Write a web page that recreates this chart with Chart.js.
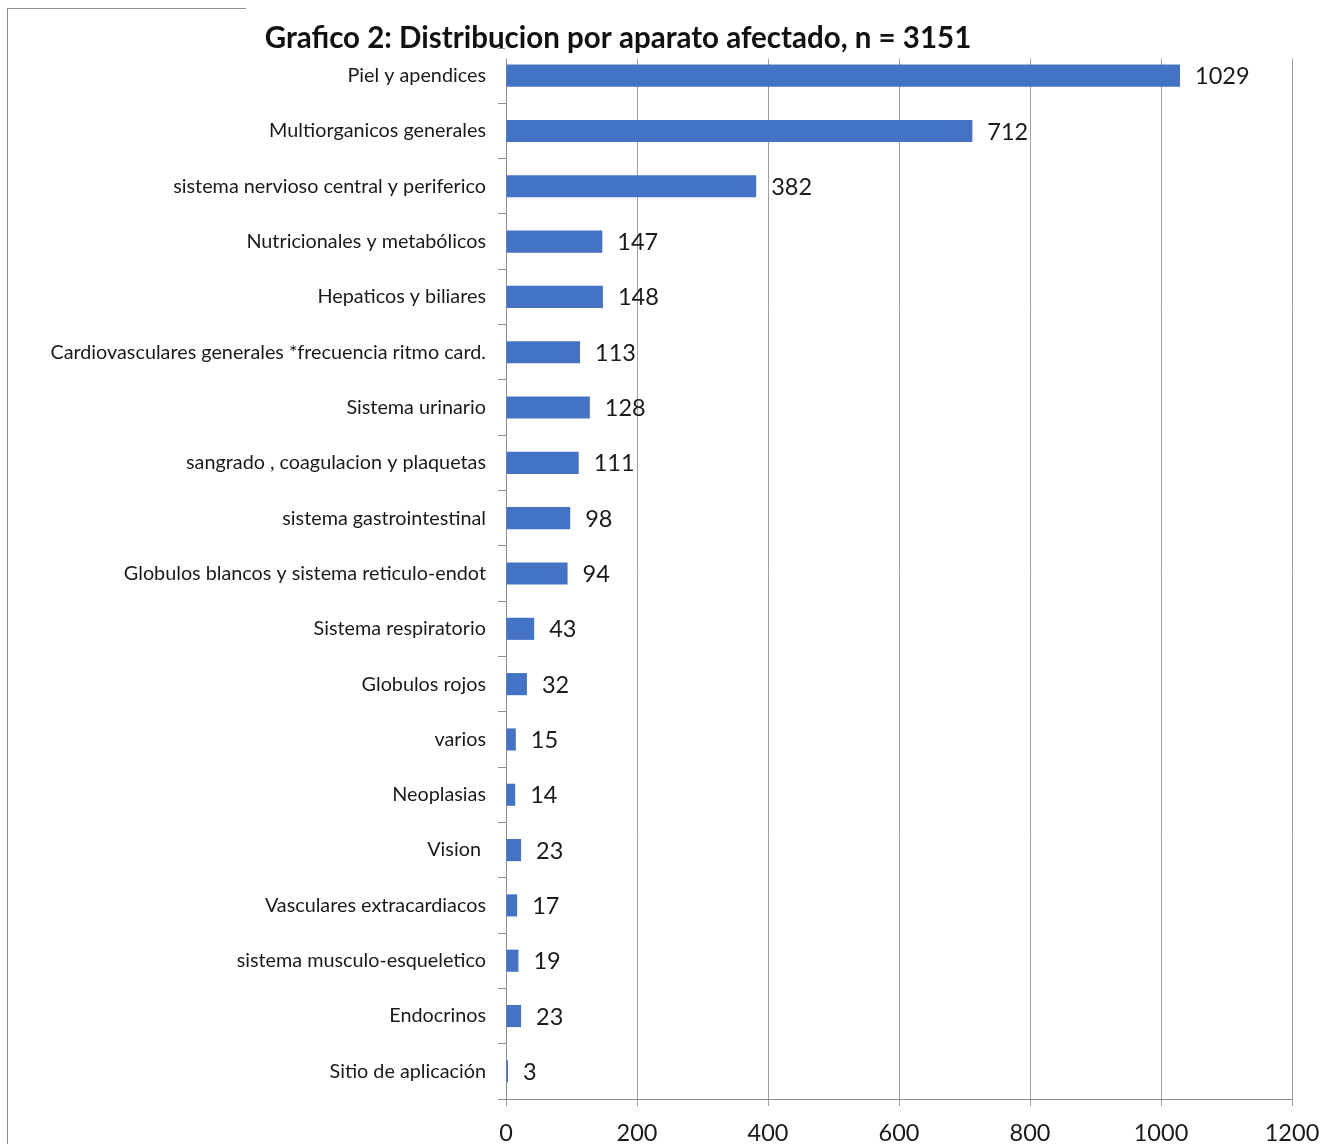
<!DOCTYPE html>
<html>
<head>
<meta charset="utf-8">
<script src="https://cdn.jsdelivr.net/npm/chart.js@4/dist/chart.umd.min.js"></script>
<style>
  html, body { margin: 0; padding: 0; background: #fff; }
  #wrap { position: relative; width: 1333px; height: 1144px; }
  #frame { position: absolute; left: 7px; top: 8px; width: 238px; height: 1136px;
           border-left: 1px solid #8c8c8c; border-top: 1px solid #8c8c8c; }
  canvas { position: absolute; left: 0; top: 0; }
</style>
</head>
<body>
<div id="wrap">
  <div id="frame"></div>
  <canvas id="aparatoChart" width="1333" height="1144"></canvas>
</div>
<script>
const chartTitle = 'Grafico 2: Distribucion por aparato afectado, n = 3151';

const categories = [
    'Piel y apendices',
    'Multiorganicos generales',
    'sistema nervioso central y periferico',
    'Nutricionales y metabólicos',
    'Hepaticos y biliares',
    'Cardiovasculares generales *frecuencia ritmo card.',
    'Sistema urinario',
    'sangrado , coagulacion y plaquetas',
    'sistema gastrointestinal',
    'Globulos blancos y sistema reticulo-endot',
    'Sistema respiratorio',
    'Globulos rojos',
    'varios',
    'Neoplasias',
    'Vision ',
    'Vasculares extracardiacos',
    'sistema musculo-esqueletico',
    'Endocrinos',
    'Sitio de aplicación'
];

const casos = [1029, 712, 382, 147, 148, 113, 128, 111, 98, 94, 43, 32, 15, 14, 23, 17, 19, 23, 3];

const xTicks = [0, 200, 400, 600, 800, 1000, 1200];

const FONT = 'Lato, "Open Sans", sans-serif';

// value written just past the end of each bar
const valueLabels = {
    id: 'valueLabels',
    afterDatasetsDraw(chart) {
        const ctx = chart.ctx;
        const meta = chart.getDatasetMeta(0);
        ctx.save();
        ctx.font = '23.5px ' + FONT;
        ctx.fillStyle = '#1a1a1a';
        ctx.textAlign = 'left';
        ctx.textBaseline = 'middle';
        meta.data.forEach((bar, i) => {
            ctx.fillText(String(chart.data.datasets[0].data[i]), bar.x + 15, bar.y + 1);
        });
        ctx.restore();
    }
};

// grid lines and axis line start a little below the top of the first band
const topGap = {
    id: 'topGap',
    beforeDatasetsDraw(chart) {
        const a = chart.chartArea;
        const ctx = chart.ctx;
        ctx.save();
        ctx.fillStyle = '#fff';
        ctx.fillRect(a.left - 1, a.top - 1, a.right - a.left + 3, 11.5);
        ctx.restore();
    }
};

// heading sits a little left of the canvas centre
const heading = {
    id: 'heading',
    afterDraw(chart) {
        const ctx = chart.ctx;
        ctx.save();
        ctx.font = 'bold 29.5px ' + FONT;
        ctx.fillStyle = '#111';
        ctx.textAlign = 'center';
        ctx.textBaseline = 'middle';
        ctx.fillText(chartTitle, 618, 38);
        ctx.restore();
    }
};

const ctx = document.getElementById('aparatoChart').getContext('2d');
const chart = new Chart(ctx, {
    type: 'bar',
    data: {
        labels: categories,
        datasets: [{
            data: casos,
            backgroundColor: '#4472C4',
            borderWidth: 0,
            categoryPercentage: 1.0,
            barPercentage: 0.4
        }]
    },
    options: {
        indexAxis: 'y',
        responsive: false,
        animation: false,
        layout: { padding: { top: 48, right: 41, left: 0, bottom: 0 } },
        plugins: {
            legend: { display: false },
            tooltip: { enabled: false },
            title: { display: false }
        },
        scales: {
            x: {
                min: 0,
                max: 1200,
                afterBuildTicks: (scale) => { scale.ticks = xTicks.map(v => ({ value: v })); },
                afterFit: (scale) => { scale.height = 45; },
                ticks: {
                    font: { size: 23.5, family: FONT },
                    color: '#1a1a1a',
                    padding: 13,
                    maxRotation: 0,
                    callback: (v) => String(v)
                },
                grid: { color: '#a0a0a0', tickLength: 7, lineWidth: 1 },
                border: { color: '#8c8c8c' }
            },
            y: {
                afterFit: (scale) => { scale.width = 506; },
                ticks: {
                    font: { size: 19.8, family: FONT },
                    color: '#1a1a1a',
                    padding: 12,
                    autoSkip: false
                },
                grid: { offset: true, drawOnChartArea: false, drawTicks: true, tickLength: 8, color: '#8c8c8c' },
                border: { color: '#8c8c8c' }
            }
        }
    },
    plugins: [topGap, valueLabels, heading]
});
</script>
</body>
</html>
